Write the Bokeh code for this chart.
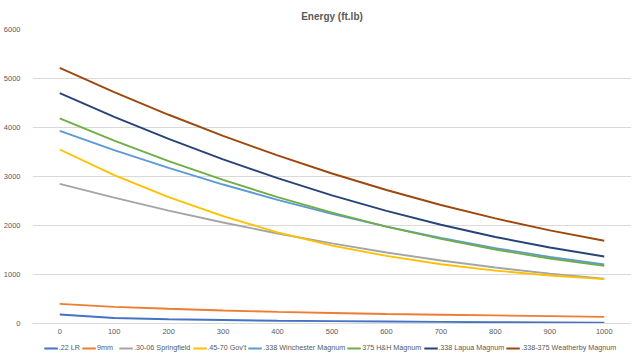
from bokeh.plotting import figure
from bokeh.models import Legend, LegendItem, FixedTicker, Range1d
from bokeh.layouts import column
from bokeh.embed import file_html
from bokeh.resources import INLINE

distance = [0, 100, 200, 300, 400, 500, 600, 700, 800, 900, 1000]

series_names = [".22 LR", "9mm", ".30-06 Springfield", ".45-70 Gov't",
                ".338 Winchester Magnum", "375 H&H Magnum", ".338 Lapua Magnum",
                ".338-375 Weatherby Magnum"]

lr22 = [184, 112, 86, 70, 57, 48, 42, 33, 27, 22, 18]
nine_mm = [400, 340, 300, 265, 237, 215, 195, 180, 165, 150, 135]
springfield = [2851, 2568, 2304, 2061, 1837, 1634, 1450, 1286, 1142, 1017, 913]
govt4570 = [3551, 3030, 2580, 2190, 1860, 1590, 1380, 1210, 1080, 980, 905]
win338 = [3932, 3540, 3175, 2836, 2524, 2238, 1978, 1745, 1539, 1358, 1204]
hh375 = [4184, 3733, 3315, 2931, 2580, 2262, 1978, 1727, 1510, 1326, 1175]
lapua338 = [4700, 4216, 3766, 3349, 2965, 2615, 2299, 2015, 1766, 1550, 1367]
weatherby = [5215, 4722, 4260, 3829, 3430, 3061, 2724, 2418, 2144, 1900, 1688]

colors = ["#4472C4", "#ED7D31", "#A5A5A5", "#FFC000", "#5B9BD5", "#70AD47", "#264478", "#9E480E"]
all_series = [lr22, nine_mm, springfield, govt4570, win338, hh375, lapua338, weatherby]

y_ticks = [0, 1000, 2000, 3000, 4000, 5000, 6000]

FONT = "Liberation Sans"
GREY = "#595959"
LW = 1.9

p = figure(frame_width=599, frame_height=294, output_backend="svg", toolbar_location=None,
           x_range=Range1d(-50, 1050), y_range=Range1d(0, 6000),
           min_border_left=25, min_border_right=0, min_border_top=0, min_border_bottom=14)

p.title.text = "Energy (ft.lb)"
p.title.align = "center"
p.title.text_font = FONT
p.title.text_font_size = "10px"
p.title.text_font_style = "bold"
p.title.text_color = GREY
p.title.standoff = 16

p.outline_line_color = None
p.background_fill_color = "white"

p.xgrid.grid_line_color = None
p.ygrid.grid_line_color = "#D9D9D9"
p.ygrid.grid_line_width = 1

p.yaxis.ticker = FixedTicker(ticks=y_ticks)
p.xaxis.ticker = FixedTicker(ticks=distance)
for ax in (p.xaxis, p.yaxis):
    ax.major_tick_line_color = None
    ax.major_tick_out = 0
    ax.major_tick_in = 0
    ax.minor_tick_line_color = None
    ax.major_label_text_font = FONT
    ax.major_label_text_font_size = "7.5px"
    ax.major_label_text_color = GREY
p.yaxis.axis_line_color = None
p.xaxis.axis_line_color = "#D9D9D9"
p.yaxis.major_label_standoff = 12
p.xaxis.major_label_standoff = 5

for vals, col in zip(all_series, colors):
    p.line(distance, vals, line_color=col, line_width=LW)

# legend strip below the chart (renderers here only supply the legend swatches)
lg = figure(width=628, height=15, output_backend="svg", toolbar_location=None,
            x_range=Range1d(0, 1), y_range=Range1d(0, 1),
            x_axis_location=None, y_axis_location=None,
            min_border_left=0, min_border_right=0, min_border_top=0, min_border_bottom=0)
lg.outline_line_color = None
lg.xgrid.grid_line_color = None
lg.ygrid.grid_line_color = None

items = []
for name, col in zip(series_names, colors):
    r = lg.line(x=[-1], y=[-1], line_color=col, line_width=LW)
    items.append(LegendItem(label=name, renderers=[r]))

legend = Legend(items=items, orientation="horizontal", location="bottom_center",
                label_text_font=FONT, label_text_font_size="7.2px", label_text_color=GREY,
                glyph_width=14, glyph_height=8, label_height=8, label_standoff=1,
                spacing=2, padding=1, margin=0, border_line_color=None,
                background_fill_alpha=0)
lg.add_layout(legend, "center")

layout = column(p, lg, spacing=0)
open("out.html", "w").write(file_html(layout, INLINE))
